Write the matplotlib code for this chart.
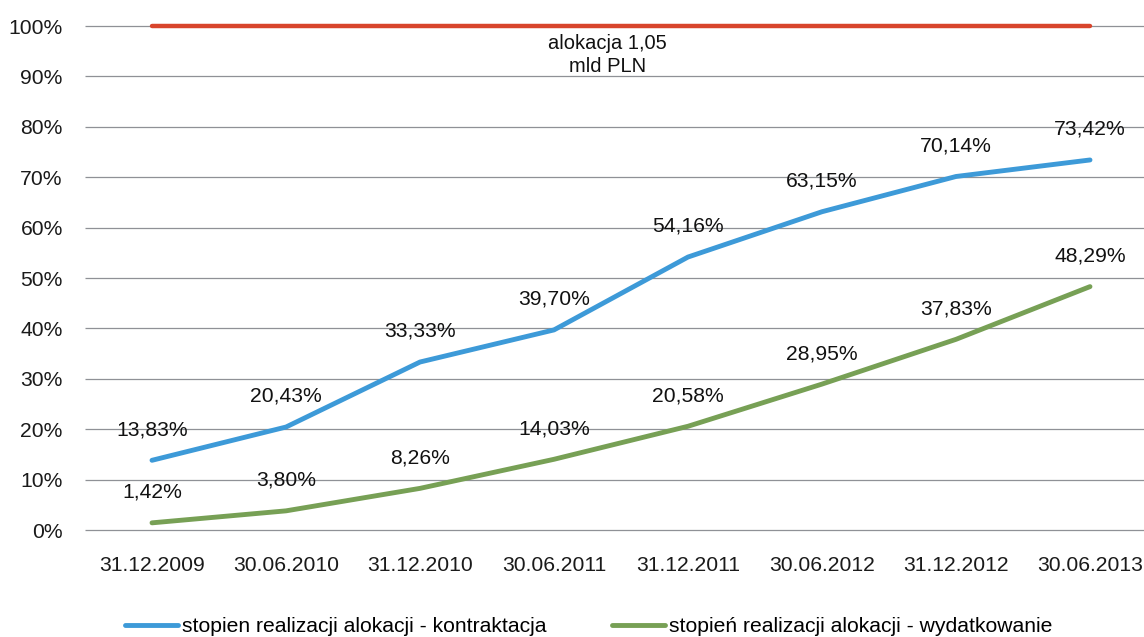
import matplotlib
matplotlib.use("Agg")
import matplotlib.pyplot as plt
from matplotlib.ticker import FuncFormatter

plt.rcParams['font.family'] = ['Liberation Sans', 'DejaVu Sans']

categories = ["31.12.2009", "30.06.2010", "31.12.2010", "30.06.2011",
              "31.12.2011", "30.06.2012", "31.12.2012", "30.06.2013"]
kontraktacja = [13.83, 20.43, 33.33, 39.70, 54.16, 63.15, 70.14, 73.42]
wydatkowanie = [1.42, 3.80, 8.26, 14.03, 20.58, 28.95, 37.83, 48.29]
alokacja = [100, 100, 100, 100, 100, 100, 100, 100]
y_ticks = [0, 10, 20, 30, 40, 50, 60, 70, 80, 90, 100]

label_k = "stopien realizacji alokacji - kontraktacja"
label_w = "stopień realizacji alokacji - wydatkowanie"
alok_text = "alokacja 1,05\nmld PLN"

W, H = 1144, 637
fig = plt.figure(figsize=(W / 100, H / 100), dpi=100)
fig.patch.set_facecolor('white')
left, right, bottom, top = 85, 1157, 530, 26
ax = fig.add_axes([left / W, (H - bottom) / H, (right - left) / W, (bottom - top) / H])
ax.set_facecolor('none')

x = list(range(len(categories)))
ax.set_xlim(-0.5, len(categories) - 0.5)
ax.set_ylim(0, 100)

for s in ax.spines.values():
    s.set_visible(False)
ax.set_yticks(y_ticks)
ax.yaxis.set_major_formatter(FuncFormatter(lambda v, p: f"{int(v)}%"))
ax.hlines(y_ticks, -0.5, len(categories) - 0.5, color='#8f9196', linewidth=0.9,
          clip_on=False, zorder=1)
ax.set_xticks(x)
ax.set_xticklabels(categories)
fs = 15.2
ax.tick_params(axis='both', length=0, labelsize=fs, colors='#1a1a1a')
ax.tick_params(axis='x', pad=19)
ax.tick_params(axis='y', pad=16)

blue = '#3d9ad8'
green = '#77a055'
red = '#d8452c'

ax.plot(x, alokacja, color=red, linewidth=3.2, solid_capstyle='round', clip_on=False, zorder=3)
l1, = ax.plot(x, kontraktacja, color=blue, linewidth=3.5, solid_capstyle='round', clip_on=False, zorder=3, label=label_k)
l2, = ax.plot(x, wydatkowanie, color=green, linewidth=3.5, solid_capstyle='round', clip_on=False, zorder=3, label=label_w)

def fmt(v):
    return f"{v:.2f}".replace('.', ',') + "%"

for xi, v in zip(x, kontraktacja):
    ax.annotate(fmt(v), (xi, v), xytext=(0, 22), textcoords='offset points',
                ha='center', va='center', fontsize=fs, color='#111111')
for xi, v in zip(x, wydatkowanie):
    ax.annotate(fmt(v), (xi, v), xytext=(0, 22), textcoords='offset points',
                ha='center', va='center', fontsize=fs, color='#111111')

ax.text(3.4, 94.2, alok_text, ha='center', va='center', fontsize=14.5,
        color='#111111', linespacing=1.25)

fig.legend(handles=[l1, l2], loc='center left', bbox_to_anchor=(125 / W, (H - 627) / H),
           ncol=2, frameon=False, fontsize=fs, handlelength=2.5, handletextpad=0.2,
           columnspacing=3.1, borderpad=0, borderaxespad=0)

fig.savefig("out.png", dpi=100)
